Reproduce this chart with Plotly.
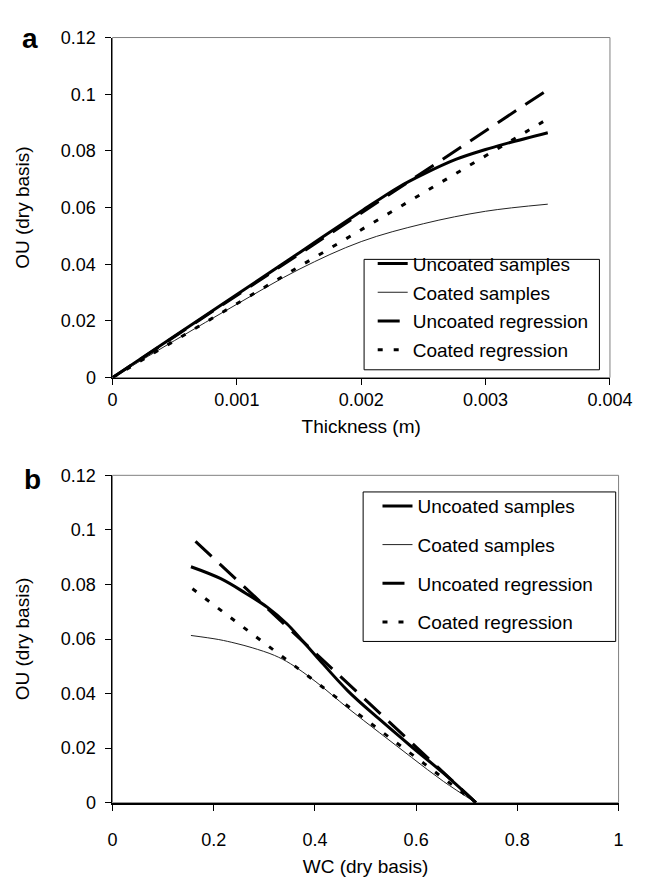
import plotly.graph_objects as go

W, H = 646, 877

# ---------------- data: panel a (OU vs thickness) ----------------
thickness_unc = [0, 0.0005, 0.001, 0.0015, 0.002, 0.0023, 0.0025, 0.00276, 0.003, 0.00315, 0.0035]
uncoated_a = [0, 0.0147, 0.0293, 0.0440, 0.0587, 0.0672, 0.0718, 0.0770, 0.0805, 0.0824, 0.0864]
thickness_coa = [0, 0.0005, 0.001, 0.0015, 0.002, 0.0025, 0.003, 0.0035]
coated_a = [0, 0.0131, 0.0259, 0.0382, 0.0480, 0.0543, 0.0587, 0.0612]
reg_thick = [0, 0.0035]
uncoated_reg_a = [0, 0.1016]
coated_reg_a = [0, 0.0913]

# ---------------- data: panel b (OU vs WC) ----------------
wc_uncoated = [0.155, 0.213, 0.263, 0.307, 0.345, 0.370, 0.402, 0.465, 0.528, 0.591, 0.654, 0.718]
uncoated_b = [0.0865, 0.0822, 0.0768, 0.0715, 0.0655, 0.0605, 0.0538, 0.0410, 0.0305, 0.0205, 0.0108, 0.0]
wc_coated = [0.155, 0.21, 0.244, 0.276, 0.320, 0.352, 0.402, 0.465, 0.528, 0.591, 0.654, 0.718]
coated_b = [0.0613, 0.0598, 0.0584, 0.0568, 0.0540, 0.0509, 0.0443, 0.0347, 0.0256, 0.0166, 0.0078, 0.0]
wc_uncoated_reg = [0.164, 0.718]
uncoated_reg_b = [0.0958, 0.0]
wc_coated_reg = [0.158, 0.718]
coated_reg_b = [0.0784, 0.0]

# ---------------- ticks ----------------
y_ticks = [0, 0.02, 0.04, 0.06, 0.08, 0.1, 0.12]
y_ticktext = ["0", "0.02", "0.04", "0.06", "0.08", "0.1", "0.12"]
xa_ticks = [0, 0.001, 0.002, 0.003, 0.004]
xa_ticktext = ["0", "0.001", "0.002", "0.003", "0.004"]
xb_ticks = [0, 0.2, 0.4, 0.6, 0.8, 1]
xb_ticktext = ["0", "0.2", "0.4", "0.6", "0.8", "1"]

names = ["Uncoated samples", "Coated samples", "Uncoated regression", "Coated regression"]

FONT = "Liberation Sans, Arial, sans-serif"

def px_x(p):
    return p / W

def px_y(p):
    return (H - p) / H

styles = [
    dict(color="black", width=3),
    dict(color="#222222", width=1),
    dict(color="black", width=3, dash="22px,11px"),
    dict(color="black", width=3, dash="5px,11px"),
]

fig = go.Figure()

series_a = [
    (thickness_unc, uncoated_a, "spline"),
    (thickness_coa, coated_a, "spline"),
    (reg_thick, uncoated_reg_a, "linear"),
    (reg_thick, coated_reg_a, "linear"),
]
for i, (xs, ys, shp) in enumerate(series_a):
    fig.add_trace(go.Scatter(
        x=xs, y=ys, mode="lines", name=names[i],
        line=dict(shape=shp, **styles[i]),
        xaxis="x", yaxis="y", legend="legend",
        legendgroup="a%d" % i,
    ))

series_b = [
    (wc_uncoated, uncoated_b, "spline"),
    (wc_coated, coated_b, "spline"),
    (wc_uncoated_reg, uncoated_reg_b, "linear"),
    (wc_coated_reg, coated_reg_b, "linear"),
]
for i, (xs, ys, shp) in enumerate(series_b):
    fig.add_trace(go.Scatter(
        x=xs, y=ys, mode="lines", name=names[i],
        line=dict(shape=shp, **styles[i]),
        xaxis="x2", yaxis="y2", legend="legend2",
        legendgroup="b%d" % i,
    ))

tickfont = dict(family=FONT, size=18, color="black")
titlefont = dict(family=FONT, size=19, color="black")

axis_common = dict(
    showgrid=False, zeroline=False, showline=True, linecolor="black",
    ticks="outside", ticklen=6, tickcolor="black", tickwidth=1,
    tickfont=tickfont,
)

A = dict(l=104, r=624, t=20, b=368)
B = dict(l=104, r=633, t=468, b=803)

fig.update_layout(
    width=W, height=H,
    margin=dict(l=0, r=0, t=0, b=0),
    paper_bgcolor="white", plot_bgcolor="white",
    showlegend=True,
    xaxis=dict(domain=[px_x(A["l"]), px_x(A["r"])], range=[0, 0.004], anchor="y",
               tickvals=xa_ticks, ticktext=xa_ticktext, linewidth=1,
               title=dict(text="Thickness (m)", font=titlefont, standoff=10),
               ticklabelstandoff=0, **axis_common),
    yaxis=dict(domain=[px_y(A["b"]), px_y(A["t"])], range=[0, 0.12], anchor="x",
               tickvals=y_ticks, ticktext=y_ticktext, linewidth=1,
               title=dict(text="OU (dry basis)", font=titlefont, standoff=26),
               ticklabelstandoff=6, **axis_common),
    xaxis2=dict(domain=[px_x(B["l"]), px_x(B["r"])], range=[0, 1], anchor="y2",
                tickvals=xb_ticks, ticktext=xb_ticktext, linewidth=2,
                title=dict(text="WC (dry basis)", font=titlefont, standoff=10),
                ticklabelstandoff=14, **axis_common),
    yaxis2=dict(domain=[px_y(B["b"]), px_y(B["t"])], range=[0, 0.12], anchor="x2",
                tickvals=y_ticks, ticktext=y_ticktext, linewidth=1,
                title=dict(text="OU (dry basis)", font=titlefont, standoff=26),
                ticklabelstandoff=6, **axis_common),
    legend=dict(
        x=px_x(376), y=px_y(232), xanchor="left", yanchor="top",
        bgcolor="rgba(0,0,0,0)", borderwidth=0,
        font=dict(family=FONT, size=19, color="black"),
        traceorder="grouped", tracegroupgap=1, itemwidth=30,
    ),
    legend2=dict(
        x=px_x(381), y=px_y(480), xanchor="left", yanchor="top",
        bgcolor="rgba(0,0,0,0)", borderwidth=0,
        font=dict(family=FONT, size=19, color="black"),
        traceorder="grouped", tracegroupgap=11, itemwidth=30,
    ),
)

shapes = []
for box in (A, B):
    shapes.append(dict(type="rect", xref="paper", yref="paper",
                       x0=px_x(box["l"]), x1=px_x(box["r"]),
                       y0=px_y(box["b"]), y1=px_y(box["t"]),
                       line=dict(color="#808080", width=1), layer="below"))
shapes.append(dict(type="rect", xref="paper", yref="paper",
                   x0=px_x(367), x1=px_x(613), y0=px_y(360), y1=px_y(247),
                   line=dict(color="black", width=1), fillcolor="white", layer="below"))
shapes.append(dict(type="rect", xref="paper", yref="paper",
                   x0=px_x(366), x1=px_x(630), y0=px_y(638), y1=px_y(485),
                   line=dict(color="black", width=1), fillcolor="white", layer="below"))
fig.update_layout(shapes=shapes)

fig.add_annotation(text="<b>a</b>", x=px_x(18), y=px_y(21), xref="paper", yref="paper",
                   showarrow=False, font=dict(family=FONT, size=28, color="black"),
                   xanchor="center", yanchor="middle")
fig.add_annotation(text="<b>b</b>", x=px_x(20), y=px_y(472), xref="paper", yref="paper",
                   showarrow=False, font=dict(family=FONT, size=28, color="black"),
                   xanchor="center", yanchor="middle")

fig.write_html("out.html")
